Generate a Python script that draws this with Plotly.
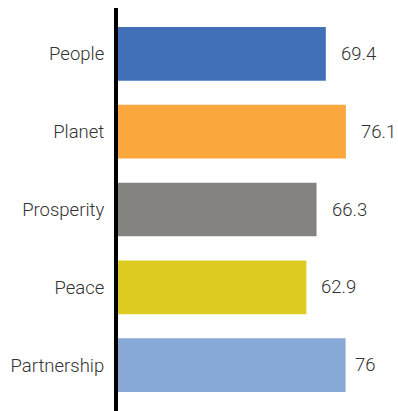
import plotly.graph_objects as go

categories = ["People", "Planet", "Prosperity", "Peace", "Partnership"]
values = [69.4, 76.1, 66.3, 62.9, 76]
colors = ["#4270B8", "#FAA73E", "#858380", "#DDCB22", "#88A9D8"]
labels = ["69.4", "76.1", "66.3", "62.9", "76"]

FONT = dict(family="Roboto", size=18.5, color="#333333", weight=300)

fig = go.Figure(go.Bar(
    y=categories, x=values, orientation="h",
    marker=dict(color=colors, line=dict(width=0)),
    width=0.69, hoverinfo="skip",
))

for c, v, t in zip(categories, values, labels):
    shift = 13 if "." in t else 7
    fig.add_annotation(x=v, y=c, text=t, showarrow=False, xanchor="left",
                       xshift=shift, font=FONT)

fig.update_layout(
    width=398, height=411,
    margin=dict(l=118, r=0, t=8, b=0),
    paper_bgcolor="white", plot_bgcolor="white",
    showlegend=False,
    font=FONT,
    xaxis=dict(range=[0, 93.5], visible=False, fixedrange=True),
    yaxis=dict(range=[4.59, -0.59], showline=True, linecolor="black", linewidth=4,
               showgrid=False, zeroline=False, ticks="", ticklabelstandoff=6,
               tickfont=FONT, fixedrange=True),
)

fig.write_html("out.html", config={"displayModeBar": False},
               post_script="document.body.style.margin='0';document.body.style.overflow='hidden';")
